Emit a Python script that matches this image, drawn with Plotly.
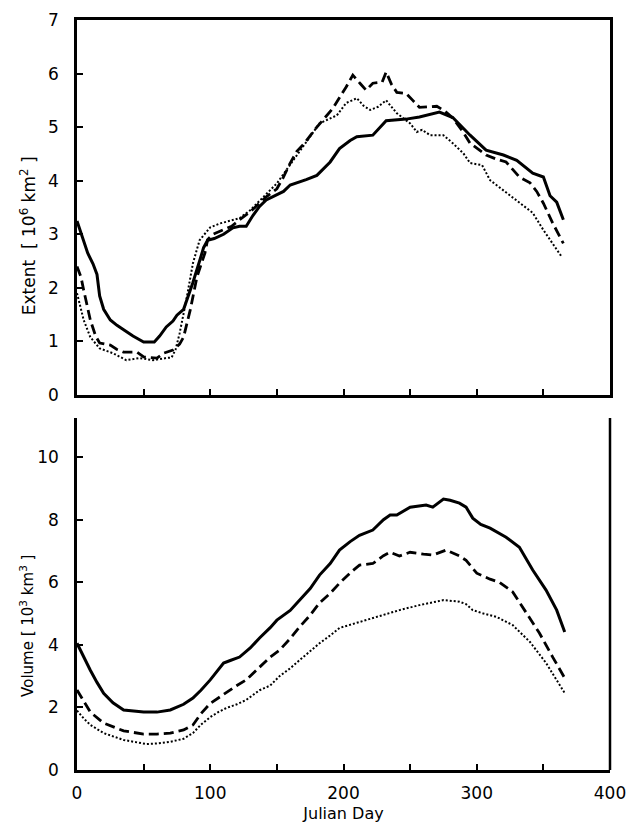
import plotly.graph_objects as go
from plotly.subplots import make_subplots

# ---- Extent (10^6 km^2) ----
ext_solid_day = [0, 4, 8, 12, 15, 17, 20, 25, 30, 35, 42, 50, 58, 62, 67, 72, 75, 80, 87, 92, 95, 98, 103, 110, 117, 122, 127, 132, 137, 142, 150, 155, 160, 167, 172, 180, 190, 197, 205, 210, 222, 232, 247, 257, 265, 272, 282, 295, 307, 320, 330, 337, 342, 350, 355, 360, 365]
ext_solid_val = [3.25, 2.95, 2.65, 2.45, 2.25, 1.85, 1.6, 1.4, 1.3, 1.22, 1.1, 0.99, 0.99, 1.1, 1.27, 1.38, 1.49, 1.6, 2.1, 2.5, 2.75, 2.89, 2.92, 3.0, 3.12, 3.15, 3.15, 3.35, 3.52, 3.64, 3.74, 3.8, 3.92, 3.97, 4.02, 4.1, 4.35, 4.6, 4.75, 4.82, 4.85, 5.12, 5.15, 5.19, 5.24, 5.28, 5.18, 4.85, 4.57, 4.48, 4.38, 4.25, 4.14, 4.07, 3.72, 3.6, 3.27]

ext_dash_day = [0, 3, 5, 8, 10, 14, 17, 25, 30, 35, 40, 45, 50, 60, 65, 72, 77, 80, 85, 90, 96, 98, 102, 110, 116, 122, 130, 142, 150, 155, 160, 165, 170, 180, 192, 202, 207, 213, 217, 222, 229, 232, 236, 240, 247, 252, 257, 270, 276, 282, 290, 295, 307, 315, 322, 332, 340, 345, 350, 357, 365]
ext_dash_val = [2.4, 2.2, 1.96, 1.6, 1.4, 1.1, 0.97, 0.93, 0.85, 0.8, 0.8, 0.8, 0.71, 0.69, 0.78, 0.84, 0.95, 1.08, 1.59, 2.2, 2.65, 2.9, 3.0, 3.08, 3.15, 3.27, 3.42, 3.7, 3.85, 4.07, 4.33, 4.55, 4.68, 5.0, 5.35, 5.75, 5.97, 5.8, 5.69, 5.82, 5.84, 6.03, 5.8, 5.65, 5.63, 5.5, 5.37, 5.39, 5.3, 5.17, 4.9, 4.7, 4.48, 4.4, 4.35, 4.07, 3.96, 3.8, 3.58, 3.21, 2.83]

ext_dot_day = [0, 3, 5, 10, 17, 27, 37, 47, 57, 67, 71, 74, 77, 82, 87, 92, 100, 107, 115, 122, 130, 140, 150, 160, 167, 172, 182, 195, 202, 210, 215, 220, 226, 232, 240, 250, 255, 259, 265, 275, 282, 290, 295, 304, 310, 320, 332, 342, 350, 357, 364]
ext_dot_val = [1.9, 1.6, 1.4, 1.08, 0.87, 0.78, 0.65, 0.69, 0.65, 0.69, 0.7, 0.85, 1.15, 1.77, 2.46, 2.89, 3.13, 3.2, 3.25, 3.3, 3.45, 3.7, 3.95, 4.3, 4.55, 4.72, 5.07, 5.22, 5.45, 5.54, 5.4, 5.32, 5.38, 5.5, 5.26, 5.07, 4.91, 4.95, 4.85, 4.85, 4.7, 4.51, 4.33, 4.29, 4.01, 3.82, 3.6, 3.4, 3.08, 2.83, 2.57]

# ---- Volume (10^3 km^3) ----
vol_solid_day = [0, 5, 10, 15, 20, 27, 35, 50, 60, 70, 80, 87, 93, 100, 105, 110, 115, 122, 130, 137, 145, 150, 160, 167, 175, 182, 190, 197, 205, 212, 222, 230, 235, 240, 250, 262, 267, 275, 280, 287, 292, 297, 303, 310, 322, 332, 342, 352, 360, 366]
vol_solid_val = [4.05, 3.6, 3.19, 2.8, 2.45, 2.15, 1.92, 1.85, 1.85, 1.92, 2.1, 2.3, 2.55, 2.88, 3.15, 3.42, 3.5, 3.61, 3.9, 4.22, 4.55, 4.79, 5.1, 5.43, 5.8, 6.23, 6.6, 7.03, 7.3, 7.5, 7.67, 8.0, 8.15, 8.15, 8.4, 8.47, 8.4, 8.66, 8.62, 8.53, 8.4, 8.05, 7.85, 7.73, 7.44, 7.12, 6.39, 5.75, 5.11, 4.41]

vol_dash_day = [0, 5, 10, 20, 35, 50, 60, 70, 80, 87, 93, 100, 106, 112, 120, 127, 137, 145, 152, 160, 167, 175, 182, 190, 197, 205, 212, 222, 230, 235, 242, 250, 260, 267, 277, 287, 292, 300, 310, 317, 327, 337, 347, 357, 366]
vol_dash_val = [2.56, 2.2, 1.85, 1.5, 1.25, 1.15, 1.15, 1.18, 1.28, 1.44, 1.8, 2.13, 2.3, 2.49, 2.7, 2.88, 3.3, 3.61, 3.83, 4.2, 4.57, 4.95, 5.34, 5.65, 5.97, 6.3, 6.55, 6.6, 6.85, 6.96, 6.84, 6.96, 6.9, 6.87, 7.03, 6.84, 6.7, 6.29, 6.1, 6.0, 5.69, 5.02, 4.38, 3.61, 2.94]

vol_dot_day = [0, 5, 10, 20, 35, 52, 60, 70, 80, 87, 93, 100, 106, 112, 120, 127, 137, 145, 152, 160, 167, 175, 182, 190, 197, 212, 227, 242, 257, 275, 287, 292, 297, 305, 315, 327, 340, 352, 366]
vol_dot_val = [1.9, 1.65, 1.44, 1.18, 0.96, 0.83, 0.85, 0.9, 1.0, 1.18, 1.45, 1.69, 1.85, 1.98, 2.1, 2.24, 2.55, 2.7, 3.0, 3.25, 3.51, 3.8, 4.05, 4.3, 4.54, 4.73, 4.92, 5.11, 5.27, 5.43, 5.38, 5.3, 5.11, 5.0, 4.89, 4.63, 4.09, 3.42, 2.46]

x_tickvals = [0, 100, 200, 300, 400]
x_ticktext = ["0", "100", "200", "300", "400"]
ext_ticks = [0, 1, 2, 3, 4, 5, 6, 7]
vol_ticks = [0, 2, 4, 6, 8, 10]

FONT = "DejaVu Sans"
BLACK = "#000000"

fig = make_subplots(rows=2, cols=1, vertical_spacing=0.0)

styles = [
    dict(color=BLACK, width=3, dash="solid"),
    dict(color=BLACK, width=2.8, dash="10px,5px"),
    dict(color=BLACK, width=2, dash="2px,2px"),
]

for (d, v), st in zip([(ext_solid_day, ext_solid_val), (ext_dash_day, ext_dash_val), (ext_dot_day, ext_dot_val)], styles):
    fig.add_trace(go.Scatter(x=d, y=v, mode="lines", line=st, showlegend=False), row=1, col=1)
for (d, v), st in zip([(vol_solid_day, vol_solid_val), (vol_dash_day, vol_dash_val), (vol_dot_day, vol_dot_val)], styles):
    fig.add_trace(go.Scatter(x=d, y=v, mode="lines", line=st, showlegend=False), row=2, col=1)

axis_common = dict(showgrid=False, zeroline=False, showline=True, linecolor=BLACK, linewidth=2.5,
                   ticks="inside", tickcolor=BLACK, tickwidth=2, ticklen=6, automargin=False,
                   tickfont=dict(family=FONT, size=17, color=BLACK))
minor_x = dict(dtick=50, tick0=0, ticks="inside", ticklen=6, tickwidth=2, tickcolor=BLACK, showgrid=False)

fig.update_layout(
    width=631, height=826,
    margin=dict(l=77, r=21, t=20, b=56),
    paper_bgcolor="white", plot_bgcolor="white",
    xaxis=dict(domain=[0, 1], range=[0, 400], tickvals=x_tickvals, showticklabels=False,
               minor=minor_x, mirror=True, **axis_common),
    yaxis=dict(domain=[0.5, 1.0], range=[0, 7], tickvals=ext_ticks, mirror=True,
               ticklabelstandoff=12, **axis_common),
    xaxis2=dict(domain=[0, 1], range=[0, 400], tickvals=x_tickvals, ticktext=x_ticktext,
                ticklabelstandoff=6, minor=minor_x,
                title=dict(text="Julian Day", font=dict(family=FONT, size=16, color=BLACK), standoff=6),
                **axis_common),
    yaxis2=dict(domain=[0, 0.4693], range=[0, 11.25], tickvals=vol_ticks,
                ticklabelstandoff=12, **axis_common),
)

# right-hand frame line of the lower panel (no top line there)
fig.add_shape(type="line", xref="x2 domain", yref="y2 domain", x0=1, x1=1, y0=0, y1=1,
              line=dict(color=BLACK, width=2.5))

fig.add_annotation(text="Extent  [ 10<sup>6</sup> km<sup>2</sup> ]", textangle=-90,
                   xref="paper", yref="paper", x=-0.092, y=0.713, showarrow=False,
                   xanchor="center", yanchor="middle",
                   font=dict(family=FONT, size=17, color=BLACK))
fig.add_annotation(text="Volume [ 10<sup>3</sup> km<sup>3</sup> ]", textangle=-90,
                   xref="paper", yref="paper", x=-0.094, y=0.192, showarrow=False,
                   xanchor="center", yanchor="middle",
                   font=dict(family=FONT, size=15, color=BLACK))

fig.write_html("out.html", config={"displayModeBar": False},
               post_script="document.body.style.margin='0px';")
